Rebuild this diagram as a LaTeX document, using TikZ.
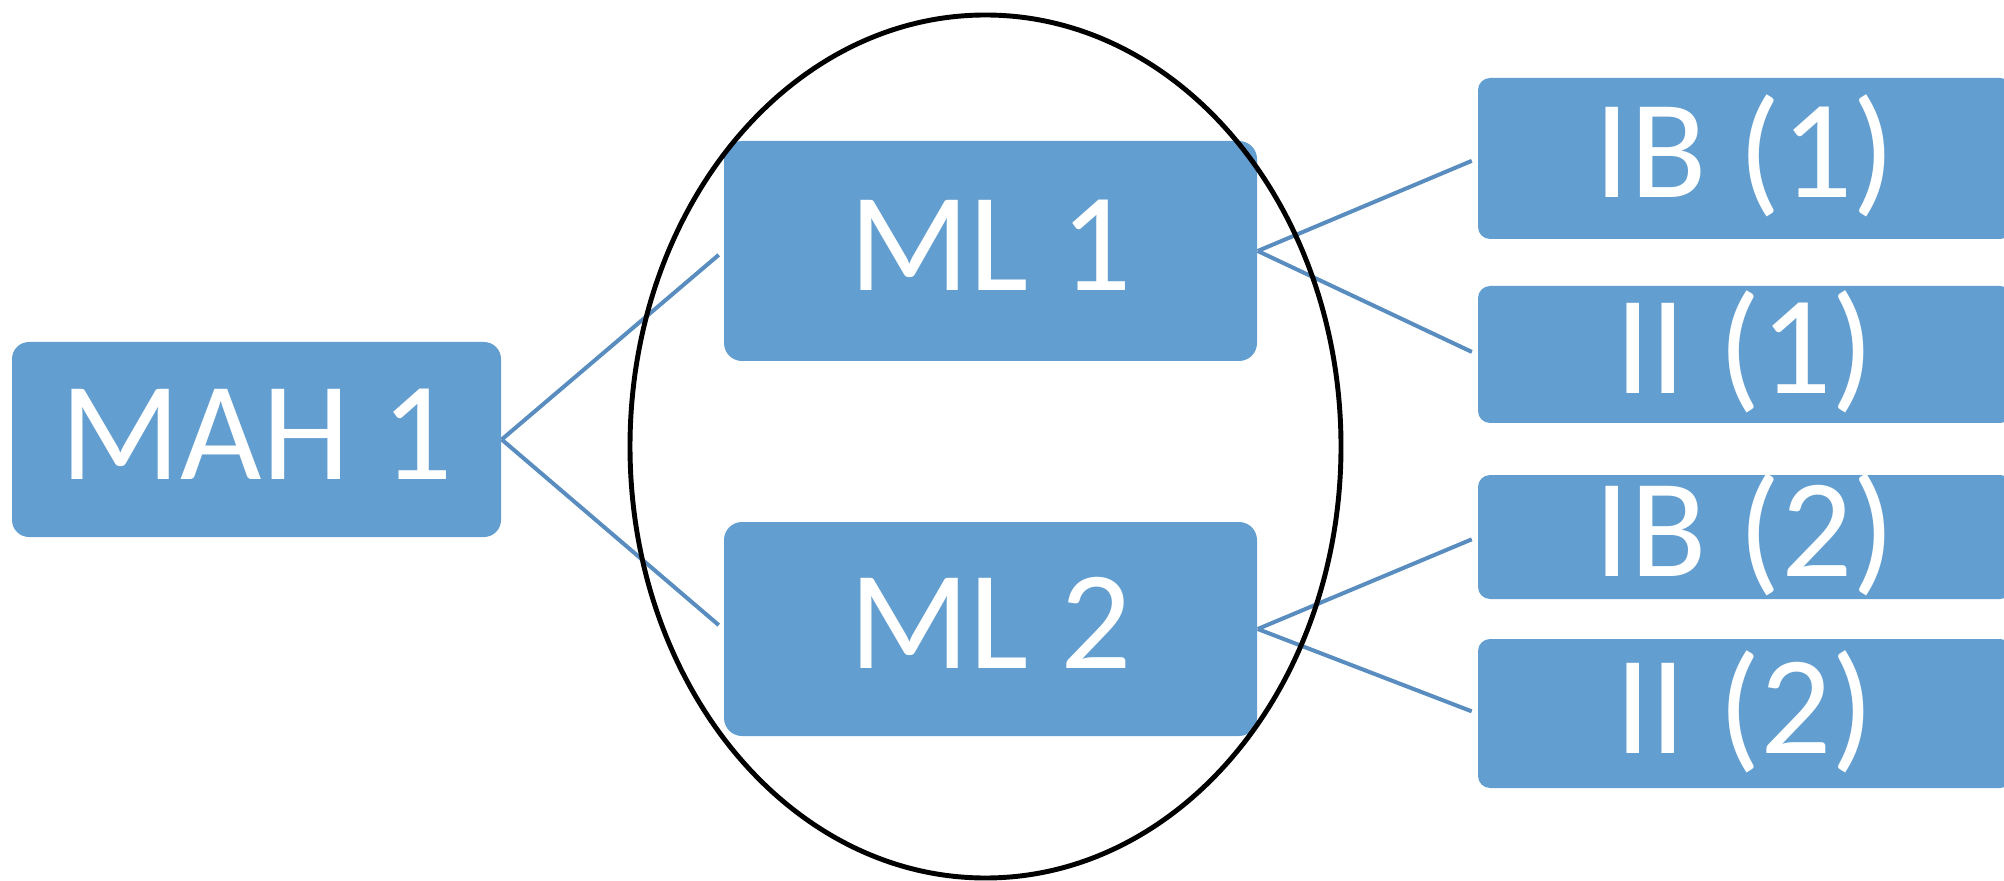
\documentclass[tikz,border=0pt]{standalone}
\usepackage{fontspec}
\setmainfont{Carlito}
\usepackage{tikz}
\definecolor{BoxBlue}{HTML}{639ED0}
\definecolor{LinkBlue}{HTML}{5A8DBF}

\begin{document}
\begin{tikzpicture}[x=1cm,y=1cm,
  unit/.style={fill=BoxBlue,text=white,inner sep=0pt,
    font=\fontsize{40}{48}\selectfont,text height=8.9mm,text depth=1mm},
  link/.style={draw=LinkBlue,line width=0.4mm,shorten >=0.6mm}]
  \useasboundingbox (0,0) rectangle (20.04,-8.81);
  \clip (0,0) rectangle (20.04,-8.81);
  % left box and the two middle boxes
  \node[unit,rounded corners=1.7mm,minimum width=4.89cm,minimum height=1.95cm] (mah) at (2.565,-4.395) {MAH 1};
  \node[unit,rounded corners=1.8mm,minimum width=5.33cm,minimum height=2.2cm] (ml1) at (9.905,-2.51) {ML 1};
  \node[unit,rounded corners=1.8mm,minimum width=5.33cm,minimum height=2.14cm] (ml2) at (9.905,-6.29) {ML 2};
  % right column, runs off the page edge
  \node[unit,rounded corners=1.2mm,minimum width=5.34cm,minimum height=1.61cm] (ib1) at (17.45,-1.585) {IB (1)};
  \node[unit,rounded corners=1.2mm,minimum width=5.34cm,minimum height=1.37cm] (ii1) at (17.45,-3.545) {II (1)};
  \node[unit,rounded corners=1.2mm,minimum width=5.34cm,minimum height=1.24cm] (ib2) at (17.45,-5.37) {IB (2)};
  \node[unit,rounded corners=1.2mm,minimum width=5.34cm,minimum height=1.49cm] (ii2) at (17.45,-7.135) {II (2)};
  % links
  \draw[link] (mah.east) -- (ml1.west);
  \draw[link] (mah.east) -- (ml2.west);
  \draw[link] (ml1.east) -- (ib1.west);
  \draw[link] (ml1.east) -- (ii1.west);
  \draw[link] (ml2.east) -- (ib2.west);
  \draw[link] (ml2.east) -- (ii2.west);
  % ring round the middle pair
  \draw[line width=1.4pt] (9.855,-4.465) ellipse [x radius=3.555,y radius=4.315];
\end{tikzpicture}
\end{document}
